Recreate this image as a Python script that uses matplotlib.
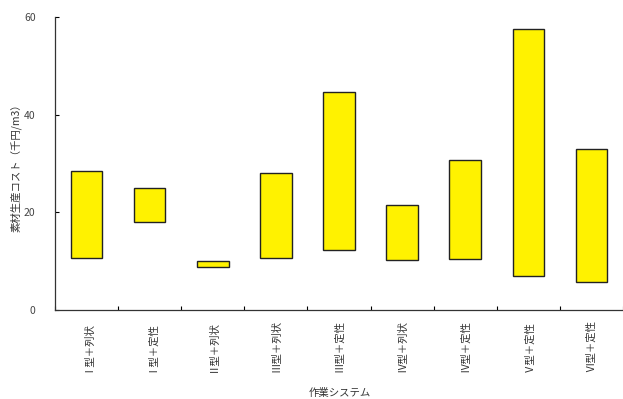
import matplotlib
matplotlib.use("Agg")
import matplotlib.pyplot as plt
import numpy as np

plt.rcParams['font.family'] = ['Noto Sans CJK JP', 'DejaVu Sans']

# categories and cost ranges (thousand yen / m3)
categories = ["Ⅰ型＋列状", "Ⅰ型＋定性", "Ⅱ型＋列状", "Ⅲ型＋列状", "Ⅲ型＋定性",
              "Ⅳ型＋列状", "Ⅳ型＋定性", "Ⅴ型＋定性", "Ⅵ型＋定性"]
cost_low = [10.6, 18.0, 8.8, 10.6, 12.3, 10.2, 10.5, 6.9, 5.7]
cost_high = [28.5, 25.0, 10.0, 28.1, 44.6, 21.4, 30.7, 57.5, 33.0]
y_ticks = [0, 20, 40, 60]

fig = plt.figure(figsize=(6.23, 3.99), dpi=100)
ax = fig.add_axes([0.0883, 0.2231, 0.9117, 0.7345])

x = np.arange(len(categories))
heights = np.array(cost_high) - np.array(cost_low)
ax.bar(x, heights, bottom=cost_low, width=0.5, color='#FFF200',
       edgecolor='#222222', linewidth=1.0)

ax.set_xlim(-0.5, len(categories) - 0.5)
ax.set_ylim(0, 60)
ax.set_yticks(y_ticks)
ax.set_yticklabels([str(v) for v in y_ticks], fontsize=7.5, color='#444444')

# boundary ticks (marks only) and centered labels
ax.set_xticks(np.arange(len(categories) + 1) - 0.5)
ax.set_xticklabels([])
ax.set_xticks(x, minor=True)
ax.set_xticklabels(categories, minor=True, rotation=90, fontsize=7.5,
                   color='#333333', va='top', ha='center')
ax.tick_params(axis='x', which='major', direction='in', length=3, width=0.8)
ax.tick_params(axis='x', which='minor', length=0, pad=7)
ax.tick_params(axis='y', direction='in', length=3, width=0.8, pad=14)

for side in ['top', 'right']:
    ax.spines[side].set_visible(False)
for side in ['left', 'bottom']:
    ax.spines[side].set_color('#333333')
    ax.spines[side].set_linewidth(0.9)

fig.text(0.026, 0.586, "素材生産コスト（千円/m3）", fontsize=7.5, color='#333333',
         rotation=90, ha='center', va='center')
fig.text(0.545, 0.003, "作業システム", fontsize=7.5, color='#333333', ha='center', va='bottom')

fig.savefig("out.png", dpi=100)
